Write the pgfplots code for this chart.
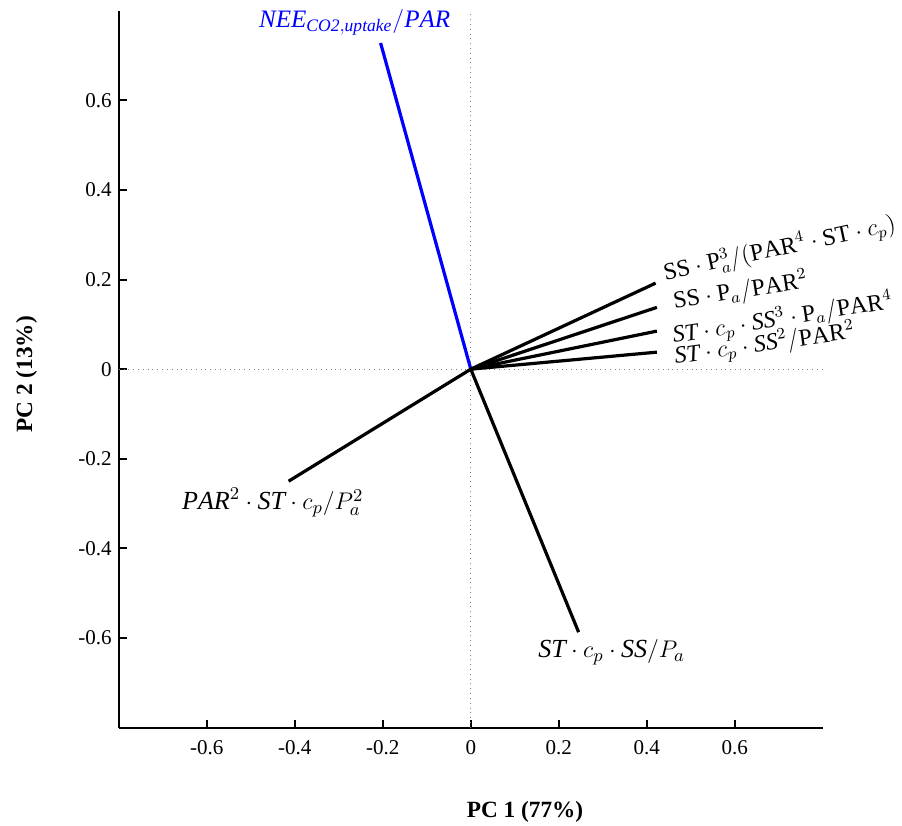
\documentclass[border=0pt]{standalone}
\usepackage{fontspec}
\setmainfont{Liberation Serif}
\usepackage{pgfplots}
\pgfplotsset{compat=1.18}
\definecolor{vecblue}{HTML}{0000FF}

\begin{document}
\begin{tikzpicture}
  \begin{axis}[
    scale only axis,
    width=351pt, height=357.4pt,
    xmin=-0.8, xmax=0.8, ymin=-0.8, ymax=0.8,
    xtick={-0.6,-0.4,...,0.6}, ytick={-0.6,-0.4,...,0.6},
    axis lines=left,
    axis line style={line width=1pt, -},
    tick style={line width=1pt, black},
    tick align=inside,
    major tick length=4pt,
    tick label style={font=\fontsize{10.5}{12}\selectfont},
    /pgf/number format/assume math mode=true,
    /pgf/number format/fixed,
    /pgf/number format/precision=1,
    xticklabel style={yshift=-3pt},
    yticklabel style={xshift=0pt},
    xlabel={\bfseries PC 1 (77\%)},
    ylabel={\bfseries PC 2 (13\%)},
    label style={font=\fontsize{11.6}{13}\selectfont},
    xlabel style={at={(axis description cs:0.577,-0.118)}, anchor=center},
    ylabel style={at={(axis description cs:-0.131,0.493)}, anchor=center},
    clip=false,
  ]
    % zero lines
    \addplot[gray, dotted, thin] coordinates {(-0.8,0) (0.8,0)};
    \addplot[gray, dotted, thin] coordinates {(0,-0.8) (0,0.8)};
    % loading vectors
    \addplot[vecblue, line width=1.6pt] coordinates {(0,0) (-0.205,0.728)};
    \addplot[black, line width=1.6pt] coordinates {(0,0) (0.42,0.192)};
    \addplot[black, line width=1.6pt] coordinates {(0,0) (0.423,0.138)};
    \addplot[black, line width=1.6pt] coordinates {(0,0) (0.423,0.085)};
    \addplot[black, line width=1.6pt] coordinates {(0,0) (0.423,0.038)};
    \addplot[black, line width=1.6pt] coordinates {(0,0) (-0.414,-0.25)};
    \addplot[black, line width=1.6pt] coordinates {(0,0) (0.245,-0.587)};
    % labels
    \node[vecblue, font=\fontsize{12.5}{14}\selectfont] at (axis cs:-0.264,0.775)
      {$\mathit{NEE}_{\mathit{CO2,uptake}}/\mathit{PAR}$};
    \node[rotate=12, font=\fontsize{12}{14}\selectfont] at (axis cs:0.702,0.268)
      {$\mathrm{SS}\cdot \mathrm{P}_a^3/(\mathrm{PAR}^4\cdot \mathrm{ST}\cdot c_p)$};
    \node[rotate=9, font=\fontsize{12}{14}\selectfont] at (axis cs:0.613,0.174)
      {$\mathrm{SS}\cdot \mathrm{P}_a/\mathrm{PAR}^2$};
    \node[rotate=9, font=\fontsize{12}{14}\selectfont] at (axis cs:0.709,0.112)
      {$\mathit{ST}\cdot c_p\cdot \mathit{SS}^3\cdot \mathrm{P}_a/\mathrm{PAR}^4$};
    \node[rotate=8, font=\fontsize{12}{14}\selectfont] at (axis cs:0.668,0.055)
      {$\mathit{ST}\cdot c_p\cdot \mathit{SS}^2/\mathrm{PAR}^2$};
    \node[font=\fontsize{13}{15}\selectfont] at (axis cs:-0.45,-0.297)
      {$\mathit{PAR}^2\cdot \mathit{ST}\cdot c_p/P_a^2$};
    \node[font=\fontsize{13}{15}\selectfont] at (axis cs:0.32,-0.632)
      {$\mathit{ST}\cdot c_p\cdot \mathit{SS}/P_a$};
    \coordinate (bl) at (axis cs:-1.070,-1.018);
    \coordinate (tr) at (axis cs:0.98,0.824);
  \end{axis}
  \pgfresetboundingbox
  \path[use as bounding box] (bl) rectangle (tr);
\end{tikzpicture}
\end{document}
